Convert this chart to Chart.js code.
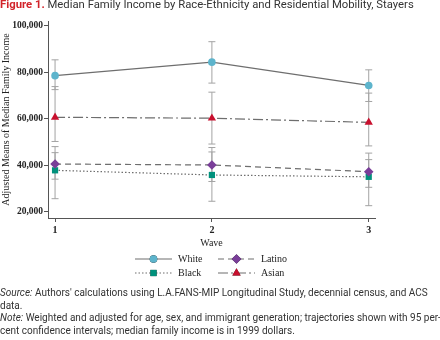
<!DOCTYPE html>
<html>
<head>
<meta charset="utf-8">
<script src="https://cdn.jsdelivr.net/npm/chart.js@4"></script>
<style>
  body { margin: 0; background: #fff; }
  #wrap { position: relative; width: 440px; height: 340px; overflow: hidden; }
  #cuadro { position: absolute; left: 0; top: 0; }
  .txt { position: absolute; left: 0; font-family: Roboto, sans-serif; color: #333; white-space: nowrap; }
  #titulo { top: -2px; font-size: 11.3px; }
  #titulo b { color: #d2232a; font-weight: 700; }
  #notas { top: 287px; font-size: 10px; line-height: 12.6px; }
</style>
</head>
<body>
<div id="wrap">
  <canvas id="cuadro" width="440" height="340"></canvas>
  <div class="txt" id="titulo"><b>Figure 1.</b> Median Family Income by Race-Ethnicity and Residential Mobility, Stayers</div>
  <div class="txt" id="notas"><i>Source:</i> Authors' calculations using L.A.FANS-MIP Longitudinal Study, decennial census, and ACS<br>data.<br><i>Note:</i> Weighted and adjusted for age, sex, and immigrant generation; trajectories shown with 95 per-<br>cent confidence intervals; median family income is in 1999 dollars.</div>
</div>
<script>
// datos
const olas = [1, 2, 3];
const y_ticks = [20000, 40000, 60000, 80000, 100000];

const white = [78500, 84300, 74300];
const white_lo = [72500, 75300, 67400];
const white_hi = [85300, 93100, 81000];

const latino = [40500, 40100, 37200];
const latino_lo = [34000, 33000, 30500];
const latino_hi = [48000, 47600, 45200];

const black = [37800, 35800, 35000];
const black_lo = [25600, 24500, 22600];
const black_hi = [45400, 45700, 42400];

const asian = [60600, 60200, 58400];
const asian_lo = [50200, 49100, 48300];
const asian_hi = [73800, 71400, 71000];

const gris = "#6e6e6e";
const serif = "'Liberation Serif', serif";

function puntos(arr) {
  return olas.map((o, i) => ({ x: o, y: arr[i] }));
}

const series = [
  { label: "White", data: white, lo: white_lo, hi: white_hi, color: "#5db4cc", style: "circle", radius: 3.8, dash: [] },
  { label: "Latino", data: latino, lo: latino_lo, hi: latino_hi, color: "#7a3e99", style: "rectRot", radius: 4.8, dash: [6, 4] },
  { label: "Black", data: black, lo: black_lo, hi: black_hi, color: "#00917c", style: "rect", radius: 4.4, dash: [1.5, 2] },
  { label: "Asian", data: asian, lo: asian_lo, hi: asian_hi, color: "#c8102e", style: "triangle", radius: 4.8, dash: [10, 3, 2, 3] }
];

// barras de error (intervalos de confianza)
const barrasError = {
  id: "barrasError",
  beforeDatasetsDraw(chart) {
    const ctx = chart.ctx;
    const xs = chart.scales.x, ys = chart.scales.y;
    ctx.save();
    ctx.strokeStyle = "#a3a3a3";
    ctx.lineWidth = 1;
    series.forEach(s => {
      for (let i = 0; i < olas.length; i++) {
        const px = xs.getPixelForValue(olas[i]);
        const top = ys.getPixelForValue(s.hi[i]);
        const bot = ys.getPixelForValue(s.lo[i]);
        ctx.beginPath();
        ctx.moveTo(px, top); ctx.lineTo(px, bot);
        ctx.moveTo(px - 3.5, top); ctx.lineTo(px + 3.5, top);
        ctx.moveTo(px - 3.5, bot); ctx.lineTo(px + 3.5, bot);
        ctx.stroke();
      }
    });
    ctx.restore();
  }
};

// leyenda en dos columnas con linea y marcador
const leyenda = {
  id: "leyenda",
  afterDraw(chart) {
    const ctx = chart.ctx;
    const cols = [135, 218];
    const rows = [259, 273];
    ctx.save();
    series.forEach((s, i) => {
      const x0 = cols[i % 2], y = rows[Math.floor(i / 2)];
      ctx.strokeStyle = gris;
      ctx.lineWidth = 1.2;
      ctx.setLineDash(s.dash);
      ctx.beginPath();
      ctx.moveTo(x0, y); ctx.lineTo(x0 + 37, y);
      ctx.stroke();
      ctx.setLineDash([]);
      Chart.helpers.drawPoint(ctx, {
        pointStyle: s.style, radius: s.radius, borderWidth: 0, rotation: 0
      }, x0 + 18.5, y);
      ctx.fillStyle = s.color;
      ctx.fill();
      ctx.fillStyle = "#222";
      ctx.font = "10px " + serif;
      ctx.textBaseline = "middle";
      ctx.fillText(s.label, x0 + 43, y + 0.5);
    });
    ctx.restore();
  }
};

const ctx = document.getElementById("cuadro");

let cuadro = new Chart(ctx, {
  type: "line",
  data: {
    datasets: series.map(s => ({
      label: s.label,
      data: puntos(s.data),
      borderColor: gris,
      borderWidth: 1.2,
      borderDash: s.dash,
      pointStyle: s.style,
      pointRadius: s.radius,
      pointBackgroundColor: s.color,
      pointBorderColor: s.color,
      pointBorderWidth: 0,
      tension: 0
    }))
  },
  options: {
    responsive: false,
    animation: false,
    layout: { padding: { top: 21, right: 65, bottom: 89, left: 0 } },
    plugins: {
      legend: { display: false },
      tooltip: { enabled: false }
    },
    scales: {
      x: {
        type: "linear",
        min: 0.955,
        max: 3.04,
        afterBuildTicks: (scale) => { scale.ticks = olas.map(v => ({ value: v })); },
        afterFit: (scale) => { scale.height = 33; },
        grid: { drawOnChartArea: false, drawTicks: true, tickLength: 4, color: "#555" },
        border: { display: true, color: "#555", width: 1 },
        ticks: { padding: 2, color: "#222", font: { family: serif, size: 10, weight: "bold" } },
        title: { display: true, text: "Wave", color: "#222", padding: { top: 0, bottom: 2 }, font: { family: serif, size: 10 } }
      },
      y: {
        min: 17300,
        max: 102000,
        afterBuildTicks: (scale) => { scale.ticks = y_ticks.map(v => ({ value: v })); },
        afterFit: (scale) => { scale.width = 48; },
        grid: { drawOnChartArea: false, drawTicks: true, tickLength: 4, color: "#555" },
        border: { display: true, color: "#555", width: 1 },
        ticks: {
          padding: 1,
          color: "#222",
          font: { family: serif, size: 9.5, weight: "bold" },
          callback: (v) => v.toLocaleString("en-US")
        },
        title: { display: true, text: "Adjusted Means of Median Family Income", color: "#222", padding: { top: 0, bottom: 0 }, font: { family: serif, size: 10 } }
      }
    }
  },
  plugins: [barrasError, leyenda]
});
</script>
</body>
</html>
